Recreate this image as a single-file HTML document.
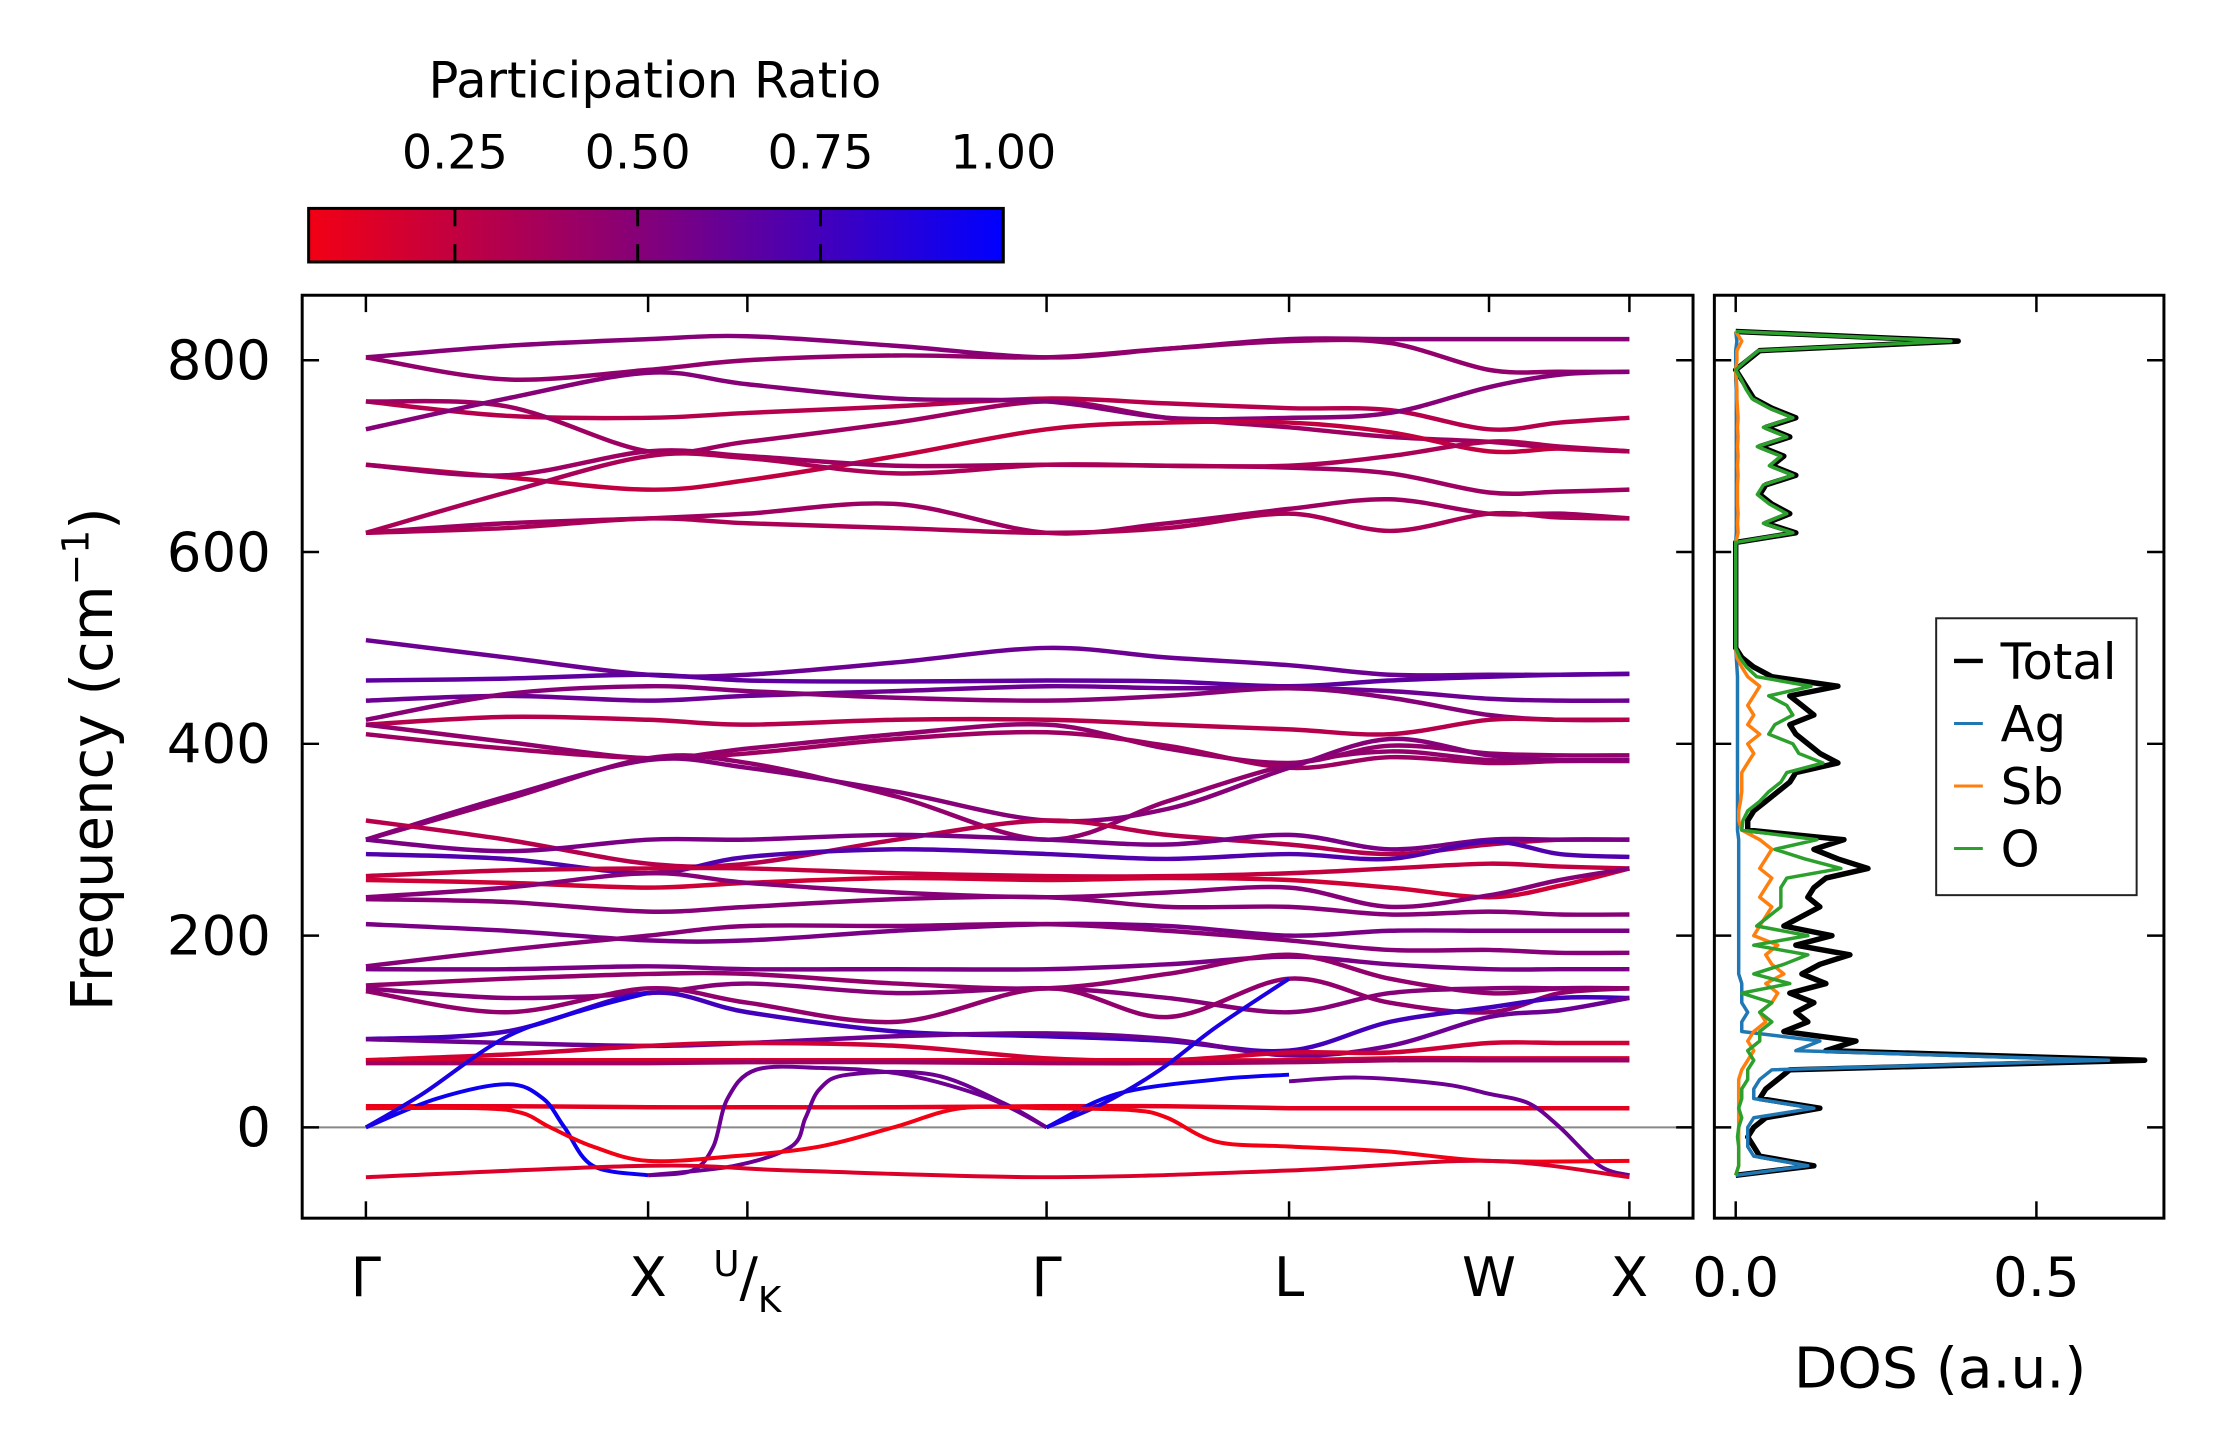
<!DOCTYPE html>
<html><head><meta charset="utf-8"><style>
html,body{margin:0;padding:0;background:#fff;}
svg{display:block;font-family:"DejaVu Sans","Liberation Sans",sans-serif;}
</style></head><body>
<svg id="chart" width="2222" height="1455" viewBox="0 0 2222 1455" xmlns="http://www.w3.org/2000/svg">
<defs>
<linearGradient id="cmap" x1="0" x2="1" y1="0" y2="0">
<stop offset="0" stop-color="rgb(242,0,20)"/>
<stop offset="0.5" stop-color="rgb(128,0,125)"/>
<stop offset="1" stop-color="rgb(0,0,255)"/>
</linearGradient>
<clipPath id="bandClip"><rect x="305" y="298" width="1400" height="928"/></clipPath>
<clipPath id="dosClip"><rect x="1728" y="298" width="452" height="928"/></clipPath>
</defs>
<g id="root" transform="scale(0.9924)">
<g id="colorbar">
<text x="660" y="98" font-size="50" text-anchor="middle">Participation Ratio</text>
<rect x="311" y="210" width="700" height="54" fill="url(#cmap)" stroke="#000" stroke-width="3"/>
</g>
<g id="bandAxes"></g>
<g id="bands" clip-path="url(#bandClip)"></g>
<g id="dosAxes"></g>
<g id="dos" clip-path="url(#dosClip)"></g>
<g id="legend"></g>
</g>
</svg>
<script>
// ---- band structure data ----
const kNodes = [0,99,199,269,374,480,565,651,722,792,842,891];
const kTicks = [0,199,269,480,651,792,891];
const kTickLabels = ["Γ","X","U/K","Γ","L","W","X"];
const freqTicks = [0,200,400,600,800];
const bandFreqs = [
 [803,815,822,825,815,803,812,822,822,822,822,822],
 [803,780,790,800,805,803,812,820,818,790,788,788],
 [757,742,740,745,752,760,755,750,748,728,735,740],
 [757,752,705,715,735,757,740,730,720,715,708,705],
 [728,760,787,775,760,757,740,740,745,772,785,788],
 [691,678,665,675,700,728,735,735,725,705,708,705],
 [691,680,705,700,690,691,690,688,682,662,663,665],
 [620,662,700,698,682,691,690,690,700,715,710,705],
 [620,630,635,640,650,620,630,645,655,640,640,635],
 [620,625,635,630,625,620,625,640,622,640,636,635],
 [508,490,472,472,485,500,490,482,472,472,472,473],
 [466,468,472,466,465,466,465,460,466,470,472,473],
 [445,450,445,450,455,460,458,458,455,447,445,445],
 [425,452,460,455,448,445,450,458,448,430,425,425],
 [420,428,425,420,425,425,420,415,410,425,425,425],
 [420,402,385,395,410,420,395,380,398,390,388,388],
 [410,395,385,390,405,412,398,375,386,380,382,382],
 [300,342,385,380,345,300,340,378,392,383,383,383],
 [300,345,383,375,350,320,332,375,405,388,383,383],
 [320,300,275,275,300,320,305,295,285,295,300,300],
 [300,288,300,300,305,300,295,305,290,300,300,300],
 [285,280,265,282,290,285,280,285,280,298,285,282],
 [262,268,270,270,265,262,262,265,270,275,272,270],
 [258,255,250,255,260,258,260,258,250,240,252,270],
 [240,250,265,255,245,240,245,250,230,242,258,270],
 [238,235,225,230,238,240,230,230,222,225,222,222],
 [212,205,195,195,205,212,210,200,205,205,205,205],
 [168,185,200,210,210,212,205,195,185,185,182,182],
 [165,165,168,165,165,165,170,178,170,165,165,165],
 [148,155,160,160,150,145,160,180,155,140,145,145],
 [145,135,140,150,140,145,135,120,140,145,145,145],
 [142,120,145,130,110,145,115,155,130,120,140,145],
 [92,100,140,120,100,95,90,80,110,125,135,135],
 [92,88,85,88,95,98,92,75,85,115,122,135],
 [70,76,85,88,85,72,70,78,78,88,88,88],
 [70,70,70,70,70,70,70,70,72,72,72,72],
 [67,67,67,68,68,67,67,68,70,70,70,70],
 [22,22,21,21,21,22,22,20,20,20,20,20]
];
const bandPR = [0.5,0.45,0.3,0.4,0.5,0.25,0.4,0.35,0.4,0.35,
 0.6,0.65,0.6,0.5,0.3,0.45,0.4,0.45,0.5,0.3,
 0.55,0.7,0.25,0.2,0.5,0.5,0.55,0.5,0.55,0.45,
 0.5,0.45,0.75,0.6,0.2,0.15,0.4,0.1];
// acoustic / soft branches with own k-samples
const acK = [
 [0,50,100,125,140,160,199],
 [199,230,245,255,275,320,380,440,480],
 [199,260,300,310,320,340,400,450,480],
 [480,530,600,651],
 [480,520,560,600,651],
 [651,700,760,792,820,842,870,891],
 [0,80,110,130,160,199,260,320,372,420,480],
 [480,540,565,600,651,720,792,891],
 [0,199,300,480,651,792,891],
 [0,40,100,160,199]
];
const acF = [
 [0,30,45,30,0,-40,-50],
 [-50,-45,-20,30,60,62,55,30,0],
 [-50,-40,-20,10,40,55,55,25,0],
 [0,35,50,55],
 [0,25,60,105,155],
 [48,52,45,35,25,0,-40,-50],
 [20,20,15,0,-20,-35,-30,-20,0,20,20],
 [20,18,10,-15,-20,-25,-35,-35],
 [-52,-40,-45,-52,-45,-35,-52],
 [0,35,95,125,140]
];
const acPR = [0.95,0.6,0.6,0.95,0.9,0.6,0.05,0.05,0.15,0.9];
// ---- DOS data (freq grid step 10 from -50) ----
const dosFreq = [];
for (let f=-50; f<=830; f+=10) dosFreq.push(f);
const dosTotal = [0,0.13,0.04,0.03,0.02,0.03,0.05,0.14,0.04,0.05,0.07,0.09,0.68,0.15,0.2,0.08,0.12,0.1,0.13,0.09,0.15,0.11,0.14,0.19,0.1,0.16,0.08,0.11,0.14,0.12,0.13,0.15,0.22,0.17,0.13,0.18,0.02,0.02,0.03,0.05,0.07,0.09,0.1,0.17,0.14,0.12,0.1,0.09,0.13,0.11,0.09,0.17,0.06,0.03,0.01,0,0,0,0,0,0,0,0,0,0,0,0,0.1,0.05,0.09,0.06,0.04,0.05,0.1,0.06,0.08,0.04,0.09,0.05,0.1,0.06,0.03,0.02,0.01,0,0.02,0.04,0.37,0];
const dosAg = [0,0.12,0.03,0.02,0.02,0.02,0.03,0.13,0.03,0.03,0.04,0.06,0.62,0.1,0.14,0.01,0.01,0.02,0.01,0.01,0.01,0.005,0.005,0.005,0.005,0.005,0.005,0.005,0.005,0.005,0.005,0.005,0.005,0.005,0.005,0.005,0.003,0.003,0.003,0.003,0.003,0.003,0.003,0.003,0.003,0.003,0.003,0.003,0.003,0.003,0.003,0.003,0.003,0.002,0.001,0,0,0,0,0,0,0,0,0,0,0,0,0.001,0.001,0.001,0.001,0.001,0.001,0.001,0.001,0.001,0.001,0.001,0.001,0.001,0.001,0.001,0.001,0,0,0,0,0.002,0];
const dosSb = [0,0.005,0.005,0.005,0.005,0.005,0.005,0.005,0.005,0.005,0.005,0.01,0.02,0.03,0.02,0.03,0.05,0.04,0.06,0.07,0.05,0.08,0.06,0.05,0.07,0.03,0.04,0.05,0.06,0.04,0.05,0.06,0.04,0.05,0.06,0.04,0.01,0.005,0.005,0.008,0.01,0.01,0.01,0.02,0.03,0.02,0.04,0.02,0.03,0.02,0.03,0.04,0.02,0.01,0.002,0,0,0,0,0,0,0,0,0,0,0,0,0.004,0.003,0.004,0.003,0.003,0.003,0.004,0.003,0.004,0.003,0.004,0.003,0.004,0.003,0.002,0.002,0.001,0,0.002,0.002,0.01,0];
const dosO = [0,0.005,0.005,0.005,0.003,0.005,0.01,0.005,0.01,0.01,0.02,0.02,0.03,0.02,0.04,0.04,0.06,0.04,0.06,0.01,0.09,0.03,0.08,0.12,0.03,0.12,0.035,0.055,0.075,0.075,0.075,0.085,0.175,0.115,0.065,0.135,0.01,0.012,0.02,0.04,0.055,0.075,0.085,0.145,0.105,0.095,0.055,0.065,0.095,0.085,0.055,0.125,0.035,0.018,0.007,0,0,0,0,0,0,0,0,0,0,0,0,0.095,0.046,0.085,0.056,0.036,0.046,0.095,0.056,0.075,0.036,0.085,0.046,0.095,0.056,0.027,0.017,0.009,0,0.018,0.038,0.358,0];

// ---- scales ----
const NS='http://www.w3.org/2000/svg';
const BX0=304.5,BX1=1706,BY0=297.5,BY1=1227.5,DX0=1727.5,DX1=2180.5;
function xK(k){return 368.7+k*1.42894;}
function yF(f){return 1136-f*0.96625;}
function xD(d){return 1749+d*606;}
function prCol(p){const t=Math.max(0,Math.min(1,(p-0.05)/0.95));
 let r,g=0,b; if(t<0.5){const s=t/0.5;r=242+(128-242)*s;b=20+(125-20)*s;}else{const s=(t-0.5)/0.5;r=128*(1-s);b=125+(255-125)*s;}
 return `rgb(${Math.round(r)},${g},${Math.round(b)})`;}
function el(tag,attrs,parent){const e=document.createElementNS(NS,tag);for(const a in attrs)e.setAttribute(a,attrs[a]);parent.appendChild(e);return e;}
function smoothPath(pts){let d=`M${pts[0][0].toFixed(1)},${pts[0][1].toFixed(1)}`;
 for(let i=0;i<pts.length-1;i++){const p0=pts[Math.max(0,i-1)],p1=pts[i],p2=pts[i+1],p3=pts[Math.min(pts.length-1,i+2)];
  const c1=[p1[0]+(p2[0]-p0[0])/6,p1[1]+(p2[1]-p0[1])/6],c2=[p2[0]-(p3[0]-p1[0])/6,p2[1]-(p3[1]-p1[1])/6];
  d+=`C${c1[0].toFixed(1)},${c1[1].toFixed(1)} ${c2[0].toFixed(1)},${c2[1].toFixed(1)} ${p2[0].toFixed(1)},${p2[1].toFixed(1)}`;}
 return d;}

// ---- colorbar ticks ----
const cb=document.getElementById('colorbar');
const cbTicks=[0.25,0.5,0.75,1.0];
cbTicks.forEach(v=>{const x=311+(v-0.05)/0.95*700;
 if(v<1){const t1=el('line',{x1:x,x2:x,y1:210,y2:228,stroke:'#000','stroke-width':3},cb);
 
 
 const t2=el('line',{x1:x,x2:x,y1:246,y2:264,stroke:'#000','stroke-width':3},cb);
 
 }
 const tx=el('text',{x:x,y:170,'font-size':48,'text-anchor':'middle'},cb);
 
 
 tx.textContent=v.toFixed(2);});

// ---- band axes ----
const ba=document.getElementById('bandAxes');
const zl=el('line',{x1:BX0,x2:BX1,y1:yF(0),y2:yF(0),stroke:'#888','stroke-width':2},ba);


kTicks.forEach((k,i)=>{const x=xK(k);
 const a=el('line',{x1:x,x2:x,y1:BY1,y2:BY1-17,stroke:'#000','stroke-width':2.5},ba);
 
 
 const b=el('line',{x1:x,x2:x,y1:BY0,y2:BY0+17,stroke:'#000','stroke-width':2.5},ba);
 
 
 const lab=kTickLabels[i];
 const t=el('text',{x:x,y:1306,'font-size':55,'text-anchor':'middle'},ba);
 
 
 if(lab==='U/K'){t.innerHTML='<tspan font-size="36" dy="-20">U</tspan><tspan dy="20">/</tspan><tspan font-size="36" dy="16">K</tspan>';}
 else t.textContent=lab;});
freqTicks.forEach(f=>{const y=yF(f);
 const a=el('line',{x1:BX0,x2:BX0+17,y1:y,y2:y,stroke:'#000','stroke-width':2.5},ba);
 
 
 const b=el('line',{x1:BX1,x2:BX1-17,y1:y,y2:y,stroke:'#000','stroke-width':2.5},ba);
 
 
 const t=el('text',{x:273,y:y+19,'font-size':55,'text-anchor':'end'},ba);
 
 
 t.textContent=f;});
const bf=el('rect',{x:BX0,y:BY0,width:BX1-BX0,height:BY1-BY0,fill:'none',stroke:'#000','stroke-width':3},ba);


const yl=el('text',{x:0,y:0,'font-size':58,'text-anchor':'middle',transform:'translate(113,765) rotate(-90)'},ba);


yl.innerHTML='Frequency (cm<tspan font-size="38" dy="-24">−1</tspan><tspan dy="24">)</tspan>';

// ---- bands ----
const bg=document.getElementById('bands');
bandFreqs.forEach((fr,i)=>{const pts=fr.map((f,j)=>[xK(kNodes[j]),yF(f)]);
 const p=el('path',{d:smoothPath(pts),fill:'none',stroke:prCol(bandPR[i]),'stroke-width':4.5},bg);
 
 });
acF.forEach((fr,i)=>{const pts=fr.map((f,j)=>[xK(acK[i][j]),yF(f)]);
 const p=el('path',{d:smoothPath(pts),fill:'none',stroke:prCol(acPR[i]),'stroke-width':4},bg);
 
 });

// ---- DOS axes ----
const da=document.getElementById('dosAxes');
const dosTicks=[0,0.5];
dosTicks.forEach(v=>{const x=xD(v);
 const a=el('line',{x1:x,x2:x,y1:BY1,y2:BY1-17,stroke:'#000','stroke-width':2.5},da);
 
 
 const b=el('line',{x1:x,x2:x,y1:BY0,y2:BY0+17,stroke:'#000','stroke-width':2.5},da);
 
 
 const t=el('text',{x:x,y:1306,'font-size':55,'text-anchor':'middle'},da);
 
 
 t.textContent=v.toFixed(1);});
freqTicks.forEach(f=>{const y=yF(f);
 const a=el('line',{x1:DX0,x2:DX0+17,y1:y,y2:y,stroke:'#000','stroke-width':2.5},da);
 
 
 const b=el('line',{x1:DX1,x2:DX1-17,y1:y,y2:y,stroke:'#000','stroke-width':2.5},da);
 
 });
const df=el('rect',{x:DX0,y:BY0,width:DX1-DX0,height:BY1-BY0,fill:'none',stroke:'#000','stroke-width':3},da);


const dl=el('text',{x:1955,y:1398,'font-size':57,'text-anchor':'middle'},da);


dl.textContent='DOS (a.u.)';

// ---- DOS curves ----
const dg=document.getElementById('dos');
const series=[[dosTotal,'#000',5.5,'dos-total'],[dosAg,'#1f77b4',3.5,'dos-ag'],[dosSb,'#ff7f0e',3.5,'dos-sb'],[dosO,'#2ca02c',3.5,'dos-o']];
series.forEach(s=>{const d=s[0].map((v,i)=>(i?'L':'M')+xD(v).toFixed(1)+','+yF(dosFreq[i]).toFixed(1)).join('');
 const p=el('path',{d:d,fill:'none',stroke:s[1],'stroke-width':s[2],'stroke-linejoin':'round'},dg);
 
 });

// ---- legend ----
const lg=document.getElementById('legend');
const lb=el('rect',{x:1951,y:623,width:202,height:279,fill:'#fff',stroke:'#222','stroke-width':2},lg);


const legNames=['Total','Ag','Sb','O'];
const legCols=['#000','#1f77b4','#ff7f0e','#2ca02c'];
legNames.forEach((n,i)=>{const y=666+i*63;
 const l=el('line',{x1:1969,x2:1998,y1:y,y2:y,stroke:legCols[i],'stroke-width':i?3:4.5},lg);
 
 
 const t=el('text',{x:2016,y:y+18,'font-size':50},lg);
 
 
 t.textContent=n;});
</script>
</body></html>
